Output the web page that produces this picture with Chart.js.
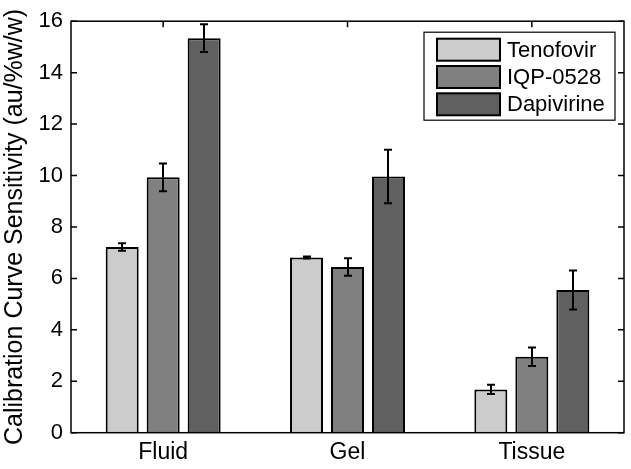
<!DOCTYPE html>
<html><head><meta charset="utf-8">
<script src="https://cdn.jsdelivr.net/npm/chart.js@4/dist/chart.umd.min.js"></script>
<style>html,body{margin:0;padding:0;background:#fff}#wrap{width:631px;height:469px}</style>
</head><body><div id="wrap"><canvas id="c" width="631" height="469"></canvas></div>
<script>
const categories = ['Fluid', 'Gel', 'Tissue'];
const seriesNames = ['Tenofovir', 'IQP-0528', 'Dapivirine'];
const tenofovir = [7.22, 6.81, 1.68];
const tenofovirErr = [0.15, 0.04, 0.18];
const iqp0528 = [9.93, 6.44, 2.95];
const iqp0528Err = [0.54, 0.34, 0.36];
const dapivirine = [15.34, 9.96, 5.55];
const dapivirineErr = [0.54, 1.04, 0.76];
const yTicks = [0, 2, 4, 6, 8, 10, 12, 14, 16];
const yTitle = 'Calibration Curve Sensitivity (au/%w/w)';

const FONT = 'Liberation Sans, Arial, Helvetica, sans-serif';
const colors = ['#cccccc', '#808080', '#606060'];
const errs = [tenofovirErr, iqp0528Err, dapivirineErr];

const boxPlugin = {
  id: 'boxPlugin',
  beforeDatasetsDraw(chart) {
    const {ctx, chartArea: a, scales: {x, y}} = chart;
    ctx.save();
    ctx.strokeStyle = '#000';
    ctx.lineWidth = 1.5;
    ctx.beginPath();
    yTicks.forEach(v => {
      const py = y.getPixelForValue(v);
      ctx.moveTo(a.left, py); ctx.lineTo(a.left + 6, py);
      ctx.moveTo(a.right, py); ctx.lineTo(a.right - 6, py);
    });
    categories.forEach((c, i) => {
      const px = x.getPixelForTick(i);
      ctx.moveTo(px, a.bottom); ctx.lineTo(px, a.bottom - 6);
      ctx.moveTo(px, a.top); ctx.lineTo(px, a.top + 6);
    });
    ctx.stroke();
    ctx.restore();
  },
  afterDatasetsDraw(chart) {
    const {ctx, chartArea: a, scales: {y}} = chart;
    ctx.save();
    ctx.strokeStyle = '#000';
    ctx.lineWidth = 2;
    chart.data.datasets.forEach((ds, di) => {
      const meta = chart.getDatasetMeta(di);
      meta.data.forEach((bar, i) => {
        const v = ds.data[i], e = errs[di][i];
        const yt = y.getPixelForValue(v + e), yb = y.getPixelForValue(v - e);
        const cx = Math.round(bar.x);
        ctx.beginPath();
        ctx.moveTo(cx, yt); ctx.lineTo(cx, yb);
        ctx.moveTo(cx - 4, yt); ctx.lineTo(cx + 4, yt);
        ctx.moveTo(cx - 4, yb); ctx.lineTo(cx + 4, yb);
        ctx.stroke();
      });
    });
    ctx.lineWidth = 1.5;
    ctx.strokeRect(a.left, a.top, a.right - a.left, a.bottom - a.top);
    const L = a.right - 200, T = a.top + 11, W = 191, H = 88;
    ctx.fillStyle = '#fff';
    ctx.fillRect(L, T, W, H);
    ctx.lineWidth = 1.2;
    ctx.strokeRect(L, T, W, H);
    ctx.font = '22px ' + FONT;
    ctx.textBaseline = 'middle';
    chart.data.datasets.forEach((ds, di) => {
      const cy = T + 17.5 + di * 27.3;
      ctx.fillStyle = ds.backgroundColor;
      ctx.fillRect(L + 13, cy - 11, 63, 22);
      ctx.lineWidth = 2;
      ctx.strokeStyle = '#000';
      ctx.strokeRect(L + 13, cy - 11, 63, 22);
      ctx.fillStyle = '#000';
      ctx.fillText(ds.label, L + 83, cy + 1);
    });
    ctx.restore();
  }
};

new Chart(document.getElementById('c'), {
  type: 'bar',
  data: {
    labels: categories,
    datasets: [
      {label: seriesNames[0], data: tenofovir, backgroundColor: colors[0]},
      {label: seriesNames[1], data: iqp0528, backgroundColor: colors[1]},
      {label: seriesNames[2], data: dapivirine, backgroundColor: colors[2]}
    ].map(d => Object.assign(d, {borderColor: '#000', borderWidth: 2, categoryPercentage: 0.667, barPercentage: 0.805}))
  },
  options: {
    responsive: false,
    animation: false,
    devicePixelRatio: 1,
    layout: {padding: {top: 16, right: 7, left: 0, bottom: 0}},
    plugins: {legend: {display: false}, tooltip: {enabled: false}},
    scales: {
      x: {
        type: 'category',
        offset: true,
        grid: {display: false, drawTicks: false},
        border: {display: false},
        ticks: {font: {family: FONT, size: 23}, color: '#000', padding: 6, maxRotation: 0},
        afterFit(s) { s.height = 36.3; }
      },
      y: {
        min: 0, max: 16,
        grid: {display: false, drawTicks: false},
        border: {display: false},
        ticks: {stepSize: 2, font: {family: FONT, size: 22}, color: '#000', padding: 8},
        afterBuildTicks(s) { s.ticks = yTicks.map(v => ({value: v})); },
        title: {display: true, text: yTitle, font: {family: FONT, size: 25}, color: '#000', padding: {top: 0, bottom: 0}},
        afterFit(s) { s.width = 71; }
      }
    }
  },
  plugins: [boxPlugin]
});
</script>
</body></html>
